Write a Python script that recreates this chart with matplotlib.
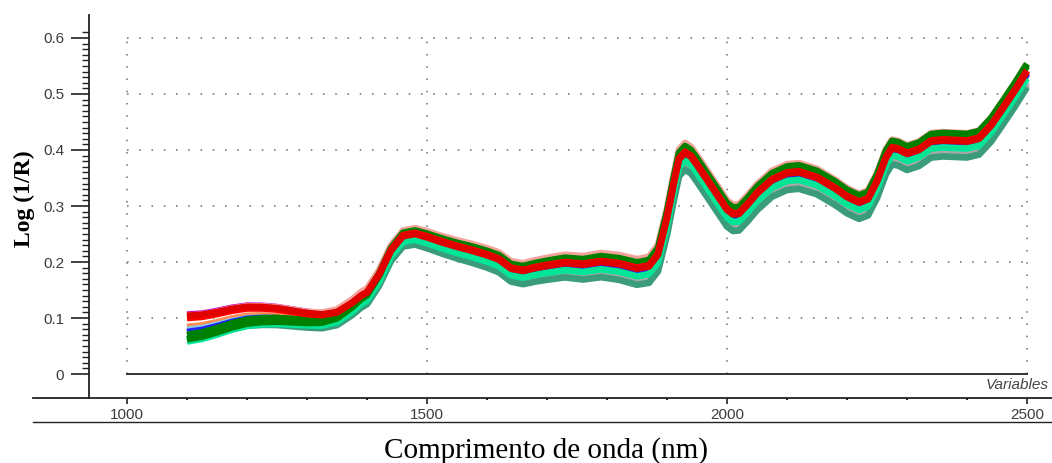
import numpy as np
import matplotlib
matplotlib.use("Agg")
import matplotlib.pyplot as plt
from matplotlib.lines import Line2D

# ---- data ----
wavelength = [1100, 1125, 1150, 1175, 1200, 1225, 1250, 1275, 1300, 1325, 1350, 1375, 1390,
              1400, 1420, 1440, 1460, 1480, 1500, 1525, 1550, 1575, 1600, 1620, 1640, 1660,
              1680, 1700, 1730, 1760, 1790, 1820, 1850, 1870, 1885, 1900, 1910, 1920, 1930,
              1940, 1950, 1975, 2000, 2010, 2020, 2035, 2050, 2075, 2100, 2120, 2150, 2180,
              2200, 2220, 2235, 2250, 2265, 2275, 2285, 2300, 2320, 2340, 2360, 2380, 2400,
              2420, 2440, 2460, 2480, 2500]
mean_log_1_r = [0.100, 0.102, 0.107, 0.113, 0.117, 0.117, 0.115, 0.111, 0.107, 0.105, 0.110,
                0.127, 0.140, 0.146, 0.178, 0.222, 0.248, 0.252, 0.246, 0.237, 0.229, 0.222,
                0.214, 0.206, 0.190, 0.186, 0.191, 0.195, 0.200, 0.197, 0.202, 0.198, 0.190,
                0.194, 0.215, 0.280, 0.335, 0.385, 0.397, 0.390, 0.375, 0.335, 0.295, 0.287,
                0.288, 0.305, 0.324, 0.348, 0.360, 0.362, 0.352, 0.333, 0.318, 0.308, 0.314,
                0.345, 0.388, 0.405, 0.403, 0.395, 0.402, 0.417, 0.419, 0.418, 0.417, 0.422,
                0.445, 0.476, 0.508, 0.542]

# offsets of each sample spectrum from the mean, read at anchor wavelengths
anchor_wl = [1100, 1300, 1450, 1900, 2500]
sample_colors = ["#cc00cc", "#f4a39c", "#ff8c50", "#8ccbe8", "#1f1fff", "#a8a8a8",
                 "#3a9c7c", "#00e596", "#008000", "#008000", "#ff0000", "#e00000"]
sample_offsets = [
    [0.006, 0.004, 0.000, -0.005, -0.005],
    [0.004, 0.004, 0.008, 0.016, 0.012],
    [-0.016, -0.010, -0.012, -0.020, -0.022],
    [-0.021, -0.014, -0.012, -0.020, -0.020],
    [-0.025, -0.012, -0.005, -0.006, -0.006],
    [-0.030, -0.020, -0.016, -0.026, -0.026],
    [-0.038, -0.024, -0.020, -0.032, -0.030],
    [-0.042, -0.020, -0.012, -0.016, -0.014],
    [-0.030, -0.010, 0.004, 0.010, 0.012],
    [-0.038, -0.016, 0.000, 0.006, 0.008],
    [0.000, 0.000, 0.000, 0.000, 0.000],
    [0.004, 0.002, -0.002, -0.002, -0.002],
]

x_ticks = [1000, 1500, 2000, 2500]
y_ticks = [0, 0.1, 0.2, 0.3, 0.4, 0.5, 0.6]
y_ticklabels = ["0", "0.1", "0.2", "0.3", "0.4", "0.5", "0.6"]

# ---- figure ----
W, H = 1052, 463
fig = plt.figure(figsize=(W / 100, H / 100), dpi=100)
ax_left, ax_bottom, ax_top = 89 / W, (H - 398) / H, (H - 15) / H
ax = fig.add_axes([ax_left, ax_bottom, 1 - ax_left, ax_top - ax_bottom])

ax.set_xlim(1000 - 38 / 0.6, 1000 + (W - 127) / 0.6)
ax.set_ylim(-24 / 560, 0.6 + 23 / 560)

grid_kw = dict(color="#8c8c8c", linewidth=1.4, linestyle=(0, (0.8, 5.5)), zorder=1)
for yv in y_ticks[1:]:
    ax.plot([x_ticks[0], x_ticks[-1]], [yv, yv], **grid_kw)
for xv in x_ticks:
    ax.plot([xv, xv], [0, y_ticks[-1]], **grid_kw)
ax.plot([x_ticks[0], x_ticks[-1]], [0, 0], color="#333333", linewidth=1.4, zorder=2)

wl = np.array(wavelength)
base = np.array(mean_log_1_r)
for col, off in zip(sample_colors, sample_offsets):
    y = base + np.interp(wl, anchor_wl, off)
    ax.plot(wl, y, color=col, linewidth=4.8, solid_capstyle="butt", zorder=3)

for s in ["top", "right", "bottom"]:
    ax.spines[s].set_visible(False)
ax.spines["left"].set_color("#222222")
ax.spines["left"].set_linewidth(1.3)

ax.set_yticks(y_ticks)
ax.set_yticklabels(y_ticklabels)
ax.set_yticks(np.arange(0, 0.6101, 0.01), minor=True)
ax.tick_params(axis="y", which="major", length=13, width=1.2, pad=5, color="#222222",
               labelsize=11, labelcolor="#3c3c3c")
ax.tick_params(axis="y", which="minor", length=5, width=1.0, color="#222222")
ax.set_xticks(x_ticks)
ax.set_xticklabels([str(v) for v in x_ticks])
ax.set_xticks(np.arange(1000, 2501, 100), minor=True)
ax.tick_params(axis="x", which="major", length=4.5, width=1.2, pad=3, color="#222222",
               labelsize=11, labelcolor="#3c3c3c")
ax.tick_params(axis="x", which="minor", length=1.5, width=1.4, color="#222222")
for lab in ax.get_xticklabels() + ax.get_yticklabels():
    lab.set_family("Liberation Sans")

fig.text(1049 / W, 1 - 385 / H, "Variables", ha="right", va="center", fontsize=11,
         style="italic", color="#444444", family="Liberation Sans")

# long horizontal rules
fig.add_artist(Line2D([33 / W, 1], [(H - 398) / H] * 2, color="#222222", linewidth=1.3))
fig.add_artist(Line2D([33 / W, 1], [(H - 422) / H] * 2, color="#222222", linewidth=1.0))

fig.text(24 / W, 1 - 199 / H, "Log (1/R)", rotation=90, ha="center", va="center",
         fontsize=17, fontweight="bold", family="Liberation Serif")
fig.text(546 / W, 1 - 451 / H, "Comprimento de onda (nm)", ha="center", va="center",
         fontsize=21, family="Liberation Serif")

fig.savefig("out.png", dpi=100)
